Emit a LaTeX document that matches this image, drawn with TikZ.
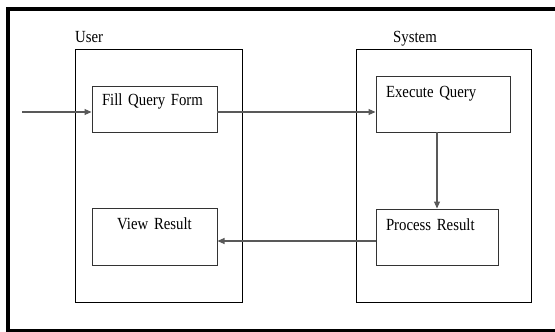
\documentclass[tikz,border=0pt]{standalone}
\usepackage{fontspec}
\setmainfont[FakeStretch=0.87,WordSpace=0.7]{Liberation Serif}
\usetikzlibrary{arrows.meta,positioning}

\begin{document}
\begin{tikzpicture}[x=1pt,y=-1pt,>={Triangle[length=7pt,width=6pt]},shorten >=.5pt,
	every node/.style={font=\fontsize{17}{20}\selectfont},
	lane/.style={draw,line width=.9pt,inner sep=0pt,outer sep=0pt,minimum height=253pt},
	task/.style={draw=black!80,line width=.9pt,inner xsep=10pt,inner ysep=0pt,outer sep=0pt,align=left},
	lanetitle/.style={inner sep=0pt,anchor=base west},
	flow/.style={->,every edge/.append style={draw=black!65,line width=1.1pt}}]
	\path[use as bounding box,clip] (0,0) rectangle (555,332);
	\draw[line width=3.5pt] (8,9) rectangle (575,330.5);

	\node[lane,minimum width=167pt,anchor=north west] (user) at (75,49) {};
	\node[lane,minimum width=175pt] (system) [below right=0pt and 114pt of user.north east] {};
	\node[lanetitle] (usertitle) at ([yshift=7pt]user.north west) {User};
	\node[lanetitle] (systemtitle) at ([xshift=37pt,yshift=7pt]system.north west) {System};

	\node[task,text width=105pt,text height=19.5pt,text depth=26.5pt] (fill) [below right=37pt and 17pt of user.north west] {Fill Query Form};
	\node[task,text width=105pt,text height=21.5pt,text depth=35.5pt,align=center] (view) [below right=76pt and 0pt of fill.south west] {View Result};
	\node[task,text width=114pt,text height=21.5pt,text depth=34.5pt] (exec) [below right=27pt and 20pt of system.north west] {Execute Query};
	\node[task,text width=102pt,text height=21pt,text depth=35pt] (proc) [below right=77pt and 0pt of exec.south west] {Process Result};

	\coordinate (start) at (22,112);
	\coordinate (send) at ([yshift=-3pt]fill.east);
	\coordinate (back) at ([yshift=-4pt]proc.west);

	\path[flow] (start) edge (start -| fill.west)
	(send) edge (send -| exec.west)
	(exec.south -| proc.north) edge (proc.north)
	(back) edge (back -| view.east)
	;
\end{tikzpicture}
\end{document}
